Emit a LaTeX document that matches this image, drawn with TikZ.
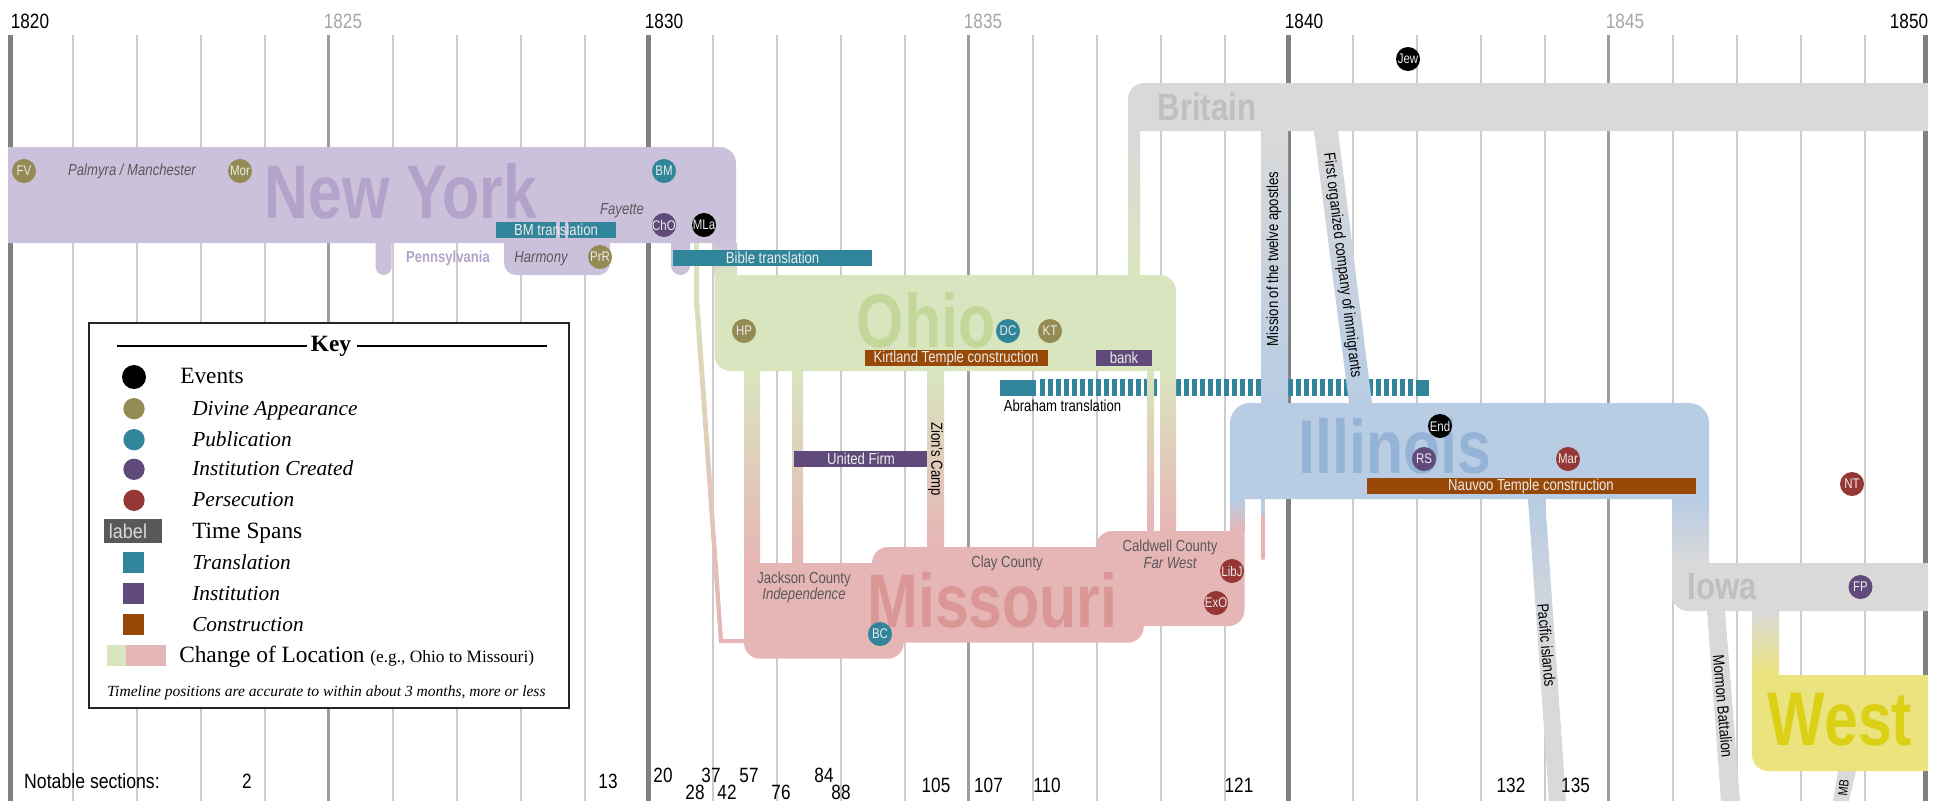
\documentclass[tikz,border=0pt]{standalone}
\usepackage{fontspec}
\setmainfont{Liberation Serif}
\setsansfont{Liberation Sans}
\definecolor{nycol}{HTML}{CBC1DB}
\definecolor{nytext}{HTML}{B3A3CB}
\definecolor{ohcol}{HTML}{D9E5BF}
\definecolor{ohtext}{HTML}{C4D79B}
\definecolor{mocol}{HTML}{E6B5B5}
\definecolor{motext}{HTML}{DB9696}
\definecolor{ilcol}{HTML}{B8CCE4}
\definecolor{iltext}{HTML}{95B3D7}
\definecolor{grcol}{HTML}{D9D9D9}
\definecolor{grtext}{HTML}{BFBFBF}
\definecolor{wecol}{HTML}{EBE37D}
\definecolor{wetext}{HTML}{DBD016}
\definecolor{transl}{HTML}{31859B}
\definecolor{instit}{HTML}{604A7B}
\definecolor{constr}{HTML}{984807}
\definecolor{persec}{HTML}{953735}
\definecolor{divine}{HTML}{948A54}
\definecolor{darktxt}{HTML}{595959}
\tikzset{
  lbl/.style={inner sep=0pt,xscale=.82,font=\sffamily\fontsize{12}{14}\selectfont},
  place/.style={lbl,text=darktxt},
  placeit/.style={lbl,text=darktxt,font=\sffamily\itshape\fontsize{12}{14}\selectfont},
  bigname/.style={inner sep=0pt,xscale=.8,font=\sffamily\bfseries\fontsize{57}{57}\selectfont},
  midname/.style={inner sep=0pt,xscale=.82,font=\sffamily\bfseries\fontsize{28.5}{30}\selectfont},
  spanlbl/.style={lbl,text=white!92!black},
  evt/.style={circle,minimum size=18pt,inner sep=0pt},
  evtlbl/.style={inner sep=0pt,xscale=.82,font=\sffamily\fontsize{10.5}{12}\selectfont,text=white!92!black},
  secnum/.style={inner sep=0pt,xscale=.83,font=\sffamily\fontsize{15.5}{17}\selectfont},
  keylbl/.style={anchor=base west,inner sep=0pt,font=\fontsize{17.5}{19}\selectfont},
  keyit/.style={anchor=base west,inner sep=0pt,font=\itshape\fontsize{16}{18}\selectfont},
  keydot/.style={circle,minimum size=16pt,inner sep=0pt},
  keysq/.style={minimum size=16pt,inner sep=0pt}
}
\begin{document}
\begin{tikzpicture}[x=.75pt,y=-.75pt]
\useasboundingbox (0,0) rectangle (1937,801);
% year lines
\foreach \k in {1,2,3,4,6,7,8,9,11,12,13,14,16,17,18,19,21,22,23,24,26,27,28,29}\draw[line width=1.5pt,color=black!20] ({8.5+64*\k},35) -- ({8.5+64*\k},801);
\foreach \k in {5,15,25}\draw[line width=2pt,color=black!38] ({8.5+64*\k},35) -- ({8.5+64*\k},801);
\foreach \xx in {10.5,648.5,1288.5,1925.5}\draw[line width=4pt,color=black!50] (\xx,35) -- (\xx,801);
\foreach \yr/\xx/\col in {1820/30/black,1825/343/black!35,1830/664/black,1835/983/black!35,1840/1304/black,1845/1625/black!35,1850/1909/black}
  \node[secnum,text=\col] (y\yr) at (\xx,21) {\yr};
% Abraham translation, stripes lie under the moves
\foreach \xx in {1040,1048,...,1408}\fill[transl] (\xx,379) rectangle ++(5,17);
\fill[transl] (1000,380) rectangle (1036,396);
\fill[transl] (1416,380) rectangle (1429,396);
% moves
\shade[top color=nycol,bottom color=ohcol] (714.5,243) rectangle (737,275);
\shade[top color=grcol,bottom color=ohcol] (1128,131) rectangle (1140,275);
\shade[top color=ohcol,bottom color=mocol] (744,371) rectangle (760,563);
\shade[top color=ohcol,bottom color=mocol] (792,371) rectangle (803,563);
\shade[top color=ohcol,bottom color=mocol] (927,371) rectangle (944,547);
\shade[top color=ohcol,bottom color=mocol] (1147,371) rectangle (1154,531);
\shade[top color=ohcol,bottom color=mocol] (1160,371) rectangle (1176,531);
\shade[top color=ohcol,bottom color=mocol] (694,243) -- (699,243) -- (699,297) -- (723,639) -- (744,639) -- (744,643) -- (719,643) -- (694,300) -- cycle;
\shade[top color=ilcol,bottom color=mocol] (1230,499) rectangle (1244.5,531);
\fill[mocol] (1261,515) -- (1265,515) -- (1265,558) arc (0:180:2) -- cycle;
\fill[ilcol] (1261,499) rectangle (1265,515);
\shade[top color=grcol,bottom color=ilcol] (1261,131) rectangle (1288,403);
\shade[top color=grcol,bottom color=ilcol] (1314,131) -- (1338,131) -- (1372,403) -- (1349,403) -- cycle;
\shade[top color=ilcol,bottom color=grcol] (1528,499) -- (1545,499) -- (1555.5,650) -- (1538.5,650) -- cycle;
\fill[grcol] (1538.5,650) -- (1555.5,650) -- (1566,801) -- (1549,801) -- cycle;
\shade[top color=ilcol,bottom color=grcol] (1672,499) rectangle (1709,563);
\shade[top color=grcol,bottom color=wecol] (1752,611) rectangle (1779,675);
\fill[grcol] (1707,611) -- (1725,611) -- (1740,801) -- (1721,801) -- cycle;
\fill[grcol] (1838,771) -- (1856,771) -- (1849,801) -- (1833,801) -- cycle;
% places
\fill[nycol] (375.7,243) -- (391.7,243) -- (391.7,267) arc (0:180:8) -- cycle;
\fill[nycol] (671,243) -- (690,243) -- (690,265.5) arc (0:180:9.5) -- cycle;
\fill[nycol] (504,243) -- (610,243) -- (610,263) arc (0:90:12) -- (516,275) arc (90:180:12) -- cycle;
\fill[nycol] (8,147) -- (720,147) arc (270:360:16) -- (736,243) -- (8,243) -- cycle;
\fill[ohcol] (714.5,275) -- (1160,275) arc (270:360:16) -- (1176,371) -- (730.5,371) arc (90:180:16) -- cycle;
\fill[grcol] (1128,131) -- (1128,99) arc (180:270:16) -- (1928,83) -- (1928,131) -- cycle;
\fill[mocol] (744,563) -- (903.7,563) -- (903.7,642.7) arc (0:90:16) -- (760,658.7) arc (90:180:16) -- cycle;
\fill[mocol] (872,642.7) -- (872,563) arc (180:270:16) -- (1143.7,547) -- (1143.7,626.7) arc (0:90:16) -- cycle;
\fill[mocol] (1096,626) -- (1096,547) arc (180:270:16) -- (1244.5,531) -- (1244.5,610) arc (0:90:16) -- cycle;
\fill[ilcol] (1230,499) -- (1230,423) arc (180:270:20) -- (1689,403) arc (270:360:20) -- (1709,499) -- cycle;
\fill[grcol] (1672,563) -- (1928,563) -- (1928,611) -- (1688,611) arc (90:180:16) -- cycle;
\fill[wecol] (1752,675) -- (1928,675) -- (1928,771) -- (1768,771) arc (90:180:16) -- cycle;
% place names
\node[bigname,text=nytext] (newyork) at (401,191) {New York};
\node[bigname,text=ohtext] (ohio) at (926,320) {Ohio};
\node[bigname,text=motext] (missouri) at (992.5,600) {Missouri};
\node[bigname,text=iltext] (illinois) at (1395,446) {Illinois};
\node[bigname,text=wetext] (west) at (1840,720) {West};
\node[midname,text=grtext] (britain) at (1207,107) {Britain};
\node[midname,text=grtext] (iowa) at (1722,587) {Iowa};
\node[lbl,text=nytext,font=\sffamily\bfseries\fontsize{12}{14}\selectfont] (penn) at (448,258) {Pennsylvania};
\node[placeit] (palmyra) at (132,171) {Palmyra / Manchester};
\node[placeit] (fayette) at (622,211) {Fayette};
\node[placeit] (harmony) at (541,259) {Harmony};
\node[place] (jackson) at (804,579) {Jackson County};
\node[placeit] (indep) at (804,595) {Independence};
\node[place] (clay) at (1007,563) {Clay County};
\node[place] (caldwell) at (1170,547) {Caldwell County};
\node[placeit] (farwest) at (1170,563) {Far West};
% moves, their labels
\node[rotate=90,lbl] (twelve) at (1274,259) {Mission of the twelve apostles};
\node[rotate=-83,lbl] (company) at (1342,265) {First organized company of immigrants};
\node[rotate=-90,lbl] (zion) at (935.5,459) {Zion's Camp};
\node[rotate=-85,lbl] (pacific) at (1546.7,645) {Pacific islands};
\node[rotate=-85,lbl] (battalion) at (1723,706) {Mormon Battalion};
\node[rotate=83,lbl,font=\sffamily\fontsize{10}{12}\selectfont] (mb) at (1843.5,788) {MB};
\node[lbl] (abraham) at (1062.5,406) {Abraham translation};
% time spans
\fill[transl] (496,222) rectangle (616,238);
\fill[nycol] (556,222) rectangle (560,238);
\fill[nycol] (565,222) rectangle (568,238);
\node[spanlbl] (bmtr) at (556,230) {BM translation};
\fill[transl] (673,250) rectangle (872,266);
\node[spanlbl] (bible) at (772.6,258) {Bible translation};
\fill[constr] (865,350) rectangle (1048,366);
\node[spanlbl] (kirtland) at (956,358) {Kirtland Temple construction};
\fill[instit] (1096,350) rectangle (1152,366);
\node[spanlbl] (bank) at (1124,358) {bank};
\fill[instit] (794,451) rectangle (927,467);
\node[spanlbl] (firm) at (861,459) {United Firm};
\fill[constr] (1367,478) rectangle (1696,494);
\node[spanlbl] (nauvoo) at (1531,486) {Nauvoo Temple construction};
% events
\foreach \nm/\xx/\yy/\col in {FV/24/171/divine,Mor/240/171/divine,BM/664/171/transl,ChO/664/225/instit,MLa/704/225/black,PrR/600/257/divine,HP/744/331/divine,DC/1008/331/transl,KT/1050/331/divine,Jew/1408/59/black,End/1440/426/black,RS/1424/459/instit,Mar/1568/459/persec,NT/1852/484/persec,FP/1860.5/587/instit,BC/880/634/transl,LibJ/1232/571/persec,ExO/1216/603/persec}{
  \node[evt,fill=\col] (\nm) at (\xx,\yy) {};
  \node[evtlbl] (t\nm) at (\xx,\yy) {\nm};
}
% notable sections
\node[secnum,anchor=west,xscale=1.03] (notable) at (24,781) {Notable sections:};
\foreach \sec/\xx/\yy in {2/247/781,13/608/781,20/663/775,28/695/792,37/711/775,42/727/792,57/749/775,76/781/792,84/824/775,88/841/792,105/936/785,107/988.5/785,110/1047/785,121/1239/785,132/1511/785,135/1575.5/785}
  \node[secnum] (s\sec) at (\xx,\yy) {\sec};
% key
\draw[fill=white,draw=black!85,line width=1pt] (89,323) rectangle (569,708);
\node[anchor=base,inner sep=0pt,font=\bfseries\fontsize{17.5}{19}\selectfont] (keytitle) at (331,351) {Key};
\coordinate (kl1) at (117,346);\coordinate (kl2) at (307,346);
\coordinate (kr1) at (357,346);\coordinate (kr2) at (547,346);
\draw[line width=1pt] (kl1) -- (kl2);
\draw[line width=1pt] (kr1) -- (kr2);
\node[keydot,minimum size=18pt,fill=black] (kevents) at (134,377) {};
\node[keylbl] (tevents) at (180,383) {Events};
\foreach \nm/\yy/\col/\txt in {kdiv/408.7/divine/Divine Appearance,kpub/439.7/transl/Publication,kinst/469.3/instit/Institution Created,kper/500.3/persec/Persecution}{
  \node[keydot,fill=\col] (\nm) at (134,\yy) {};
  \node[keyit] (t\nm) at (192,{\yy+6.5}) {\txt};
}
\node[minimum width=43.5pt,minimum height=18pt,inner sep=0pt,fill=darktxt] (ksp) at (133,531) {};
\node[inner sep=0pt,xscale=.9,text=black!15,font=\sffamily\fontsize{15}{16}\selectfont] (tlabel) at (128,531) {label};
\node[keylbl] (tspans) at (192,538) {Time Spans};
\foreach \nm/\yy/\col/\txt in {ktr/562.5/transl/Translation,kin/593.5/instit/Institution,kco/624.5/constr/Construction}{
  \node[keysq,fill=\col] (\nm) at (133.5,\yy) {};
  \node[keyit] (t\nm) at (192,{\yy+6.5}) {\txt};
}
\fill[ohcol] (107,645) rectangle (126,666);
\fill[mocol] (126,645) rectangle (166,666);
\node[keylbl] (tchange) at (179,662) {Change of Location {\fontsize{13}{14}\selectfont(e.g., Ohio to Missouri)}};
\node[anchor=base,inner sep=0pt,font=\itshape\fontsize{11.65}{13}\selectfont] (tnote) at (326.5,696) {Timeline positions are accurate to within about 3 months, more or less};
\end{tikzpicture}
\end{document}
